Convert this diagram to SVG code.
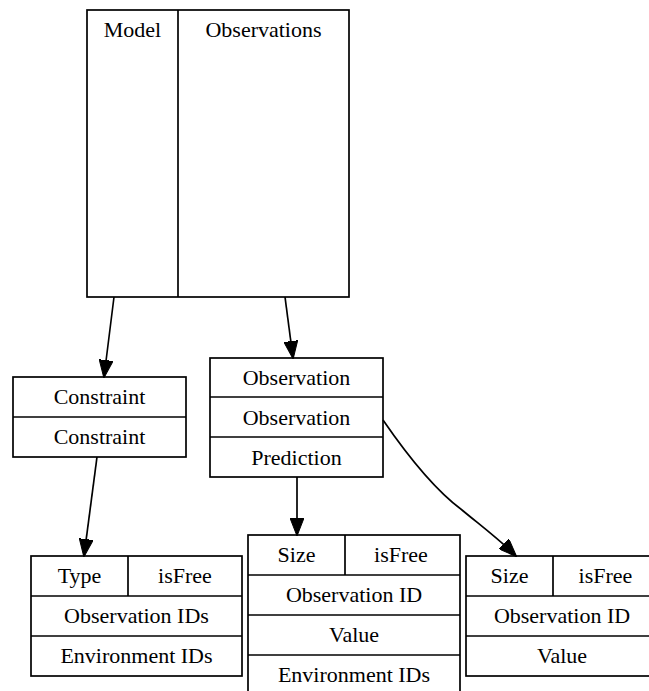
<svg xmlns="http://www.w3.org/2000/svg" width="649" height="691" viewBox="0 0 649 691">
  <style>
    .box { fill: #ffffff; stroke: #000000; stroke-width: 1.7; }
    .sep { stroke: #000000; stroke-width: 1.7; fill: none; }
    .lbl { font-family: 'Liberation Serif', 'DejaVu Serif', serif; font-size: 22px; fill: #000000; text-anchor: middle; }
    .edge { stroke: #000000; stroke-width: 1.7; fill: none; marker-end: url(#arrow); }
  </style>
  <defs>
    <marker id="arrow" viewBox="0 0 18 14" refX="17" refY="7" markerWidth="18" markerHeight="14" markerUnits="userSpaceOnUse" orient="auto">
      <path d="M0,0 L18,7 L0,14 z" fill="#000000" stroke="#000000" stroke-width="1"/>
    </marker>
  </defs>
  <rect width="649" height="691" fill="#ffffff"/>

  <!-- root record: Model | Observations -->
  <g id="root">
    <rect class="box" x="87" y="10" width="262" height="287"/>
    <line class="sep" x1="178" y1="10" x2="178" y2="297"/>
    <text class="lbl" x="132.5" y="37" font-family="Liberation Serif, serif">Model</text>
    <text class="lbl" x="263.5" y="37" font-family="Liberation Serif, serif">Observations</text>
  </g>

  <!-- constraints list -->
  <g id="constraints">
    <rect class="box" x="13" y="377" width="173" height="80"/>
    <line class="sep" x1="13" y1="417" x2="186" y2="417"/>
    <text class="lbl" x="99.5" y="404">Constraint</text>
    <text class="lbl" x="99.5" y="444">Constraint</text>
  </g>

  <!-- observations list -->
  <g id="observations">
    <rect class="box" x="210" y="358" width="173" height="119"/>
    <line class="sep" x1="210" y1="397" x2="383" y2="397"/>
    <line class="sep" x1="210" y1="437" x2="383" y2="437"/>
    <text class="lbl" x="296.5" y="385">Observation</text>
    <text class="lbl" x="296.5" y="425">Observation</text>
    <text class="lbl" x="296.5" y="465">Prediction</text>
  </g>

  <!-- constraint record -->
  <g id="constraint">
    <rect class="box" x="31" y="556" width="211" height="120"/>
    <line class="sep" x1="128" y1="556" x2="128" y2="596"/>
    <line class="sep" x1="31" y1="596" x2="242" y2="596"/>
    <line class="sep" x1="31" y1="636" x2="242" y2="636"/>
    <text class="lbl" x="79.5" y="583">Type</text>
    <text class="lbl" x="185" y="583">isFree</text>
    <text class="lbl" x="136.5" y="623">Observation IDs</text>
    <text class="lbl" x="136.5" y="663">Environment IDs</text>
  </g>

  <!-- prediction record -->
  <g id="prediction">
    <rect class="box" x="248" y="535" width="212" height="165"/>
    <line class="sep" x1="345" y1="535" x2="345" y2="575"/>
    <line class="sep" x1="248" y1="575" x2="460" y2="575"/>
    <line class="sep" x1="248" y1="615" x2="460" y2="615"/>
    <line class="sep" x1="248" y1="655" x2="460" y2="655"/>
    <text class="lbl" x="296.5" y="562">Size</text>
    <text class="lbl" x="401" y="562">isFree</text>
    <text class="lbl" x="354" y="602">Observation ID</text>
    <text class="lbl" x="354" y="642">Value</text>
    <text class="lbl" x="354" y="682">Environment IDs</text>
  </g>

  <!-- observation record -->
  <g id="observation">
    <rect class="box" x="466" y="556" width="192" height="120"/>
    <line class="sep" x1="553" y1="556" x2="553" y2="596"/>
    <line class="sep" x1="466" y1="596" x2="658" y2="596"/>
    <line class="sep" x1="466" y1="636" x2="658" y2="636"/>
    <text class="lbl" x="509.5" y="583">Size</text>
    <text class="lbl" x="605.5" y="583">isFree</text>
    <text class="lbl" x="562" y="623">Observation ID</text>
    <text class="lbl" x="562" y="663">Value</text>
  </g>

  <!-- connectors -->
  <g id="edges">
    <path class="edge" d="M114,297 L104,377"/>
    <path class="edge" d="M285,297 L293,358"/>
    <path class="edge" d="M97,457 L84,556"/>
    <path class="edge" d="M297,477 L297,535"/>
    <path class="edge" d="M383,420 C405,452 435,490 462,510 C480,525 500,540 516,556"/>
  </g>
</svg>
